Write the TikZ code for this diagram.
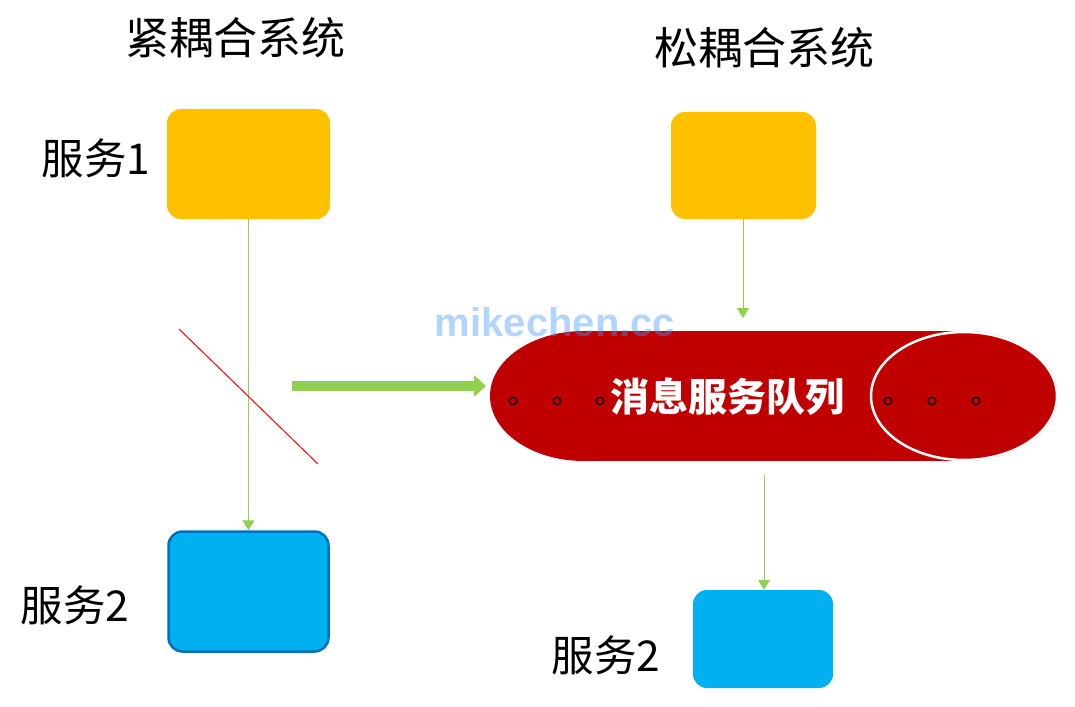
\documentclass[tikz,border=0pt]{standalone}
\usepackage{fontspec}
\setmainfont{Noto Sans CJK SC}
\newfontfamily\wmfont{Liberation Sans}
\usetikzlibrary{arrows.meta}
\definecolor{svcorange}{RGB}{255,192,0}
\definecolor{svcblue}{RGB}{0,176,240}
\definecolor{svcborder}{RGB}{0,112,192}
\definecolor{qred}{RGB}{192,0,0}
\definecolor{agreen}{RGB}{146,208,80}
\definecolor{wmblue}{RGB}{60,150,255}
\begin{document}
\begin{tikzpicture}[x=1pt,y=-1pt,
  svc/.style={rounded corners=14pt, inner sep=0pt},
  lbl/.style={font=\fontsize{42.5}{44}\selectfont, inner sep=0pt},
  ttl/.style={font=\fontsize{44}{46}\selectfont, inner sep=0pt},
  thinarrow/.style={draw=agreen, line width=1pt, -{Triangle[width=12pt,length=10pt]}},
  qdot/.style={draw=black, line width=1.3pt},
  qfill/.style={fill=qred, draw=none}]
\useasboundingbox (0,0) rectangle (1075,706);
% titles
\node[ttl] (t1) at (235,38) {紧耦合系统};
\node[ttl] (t2) at (764,48) {松耦合系统};
% left services
\node[svc, fill=svcorange, minimum width=163pt, minimum height=110pt] (s1) at (248.5,164) {};
\node[svc, fill=svcblue, draw=svcborder, line width=2.5pt, minimum width=160pt, minimum height=120pt] (s2) at (248.5,591.5) {};
\node[lbl] (l1) at (96,158) {服务1};
\node[lbl] (l2) at (75,605) {服务2};
% right services
\node[svc, fill=svcorange, minimum width=145pt, minimum height=107pt] (r1) at (743.5,165.5) {};
\node[svc, fill=svcblue, minimum width=140pt, minimum height=98pt] (r2) at (763,639) {};
\node[lbl] (l3) at (606,655) {服务2};
% queue cylinder
\fill[qred] (584,396) ellipse [x radius=94pt, y radius=65pt];
\fill[qred] (584,331) rectangle (964,461);
\fill[qred] (964,396) ellipse [x radius=94pt, y radius=65pt];
\draw[white, line width=2.5pt] (964,396) ellipse [x radius=93pt, y radius=64pt];
\node[font=\fontsize{39}{42}\selectfont\bfseries, text=white, inner sep=0pt] (q) at (727,397) {消息服务队列};
\coordinate (qin) at (743,318);
\coordinate (qout) at (764,475);
\coordinate (qleft) at (486,386);
\coordinate (garrstart) at (292,386);
% dots
\foreach \x in {513,557,600,888,932,976}
  \draw[qdot] (\x,401) circle[radius=3.8pt];
% connectors
\draw[thinarrow] (s1.south) -- (s2.north);
\draw[thinarrow] (r1.south -| qin) -- (qin);
\draw[thinarrow] (qout) -- (qout |- r2.north);
\draw[red, line width=1pt] (179,329) coordinate (c1) -- (318,464) coordinate (c2);
\draw[agreen, line width=10pt, -{Triangle[width=21pt,length=12pt]}] (garrstart) -- (qleft);
% watermark
\node[font=\wmfont\fontsize{40}{42}\selectfont\bfseries, text=wmblue, text opacity=0.4, inner sep=0pt] (wm) at (555,322) {mikechen.cc};
\end{tikzpicture}
\end{document}
